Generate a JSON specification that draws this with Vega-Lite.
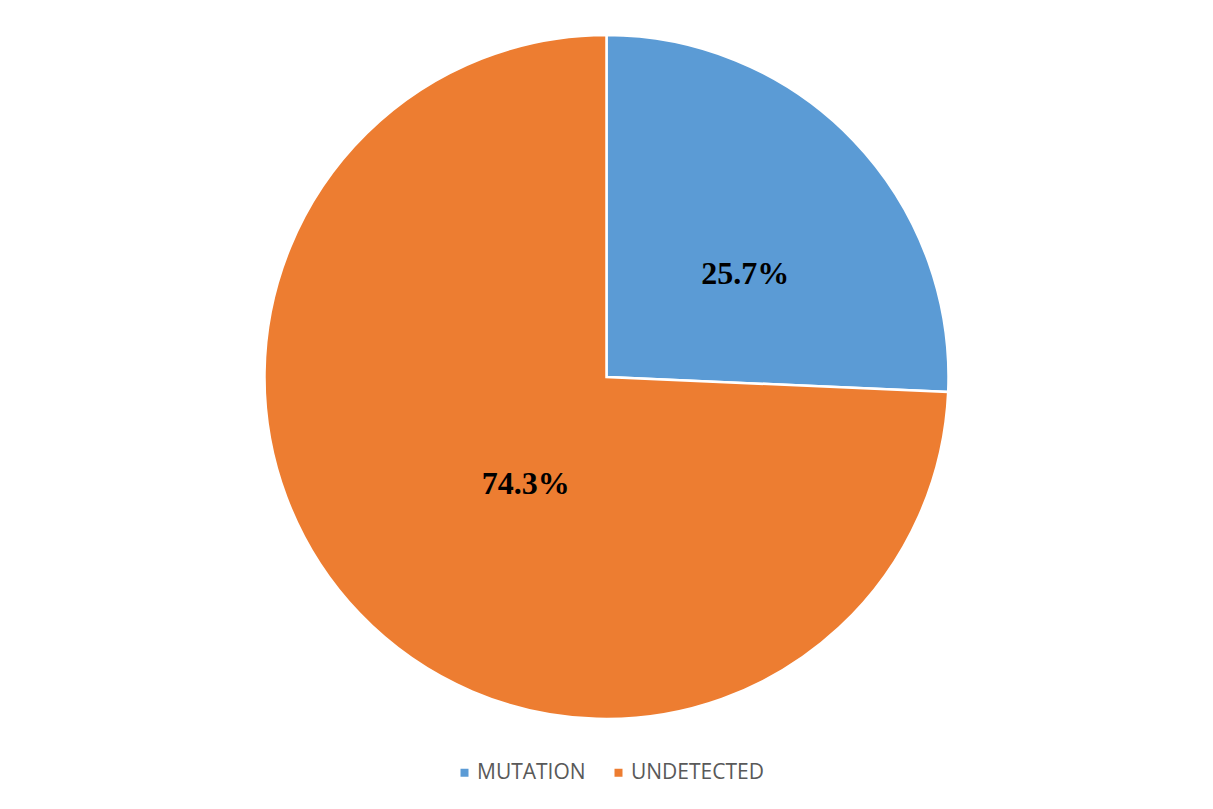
{
  "$schema": "https://vega.github.io/schema/vega-lite/v6.json",
  "width": 1205,
  "height": 746,
  "autosize": {"type": "none"},
  "padding": {"left": 4, "top": 4, "right": 4, "bottom": 59},
  "background": "white",
  "config": {"view": {"stroke": null}},
  "data": {
    "values": [
      {"category": "MUTATION", "percent": 25.7, "label": "25.7%"},
      {"category": "UNDETECTED", "percent": 74.3, "label": "74.3%"}
    ]
  },
  "encoding": {
    "theta": {"field": "percent", "type": "quantitative", "stack": true}
  },
  "layer": [
    {
      "mark": {"type": "arc", "outerRadius": 342, "stroke": "white", "strokeWidth": 2.5},
      "encoding": {
        "color": {
          "field": "category",
          "type": "nominal",
          "scale": {"domain": ["MUTATION", "UNDETECTED"], "range": ["#5b9bd5", "#ed7d31"]},
          "legend": {
            "title": null,
            "orient": "none",
            "direction": "horizontal",
            "legendX": 450,
            "legendY": 758,
            "symbolType": "square",
            "symbolSize": 64,
            "symbolStrokeWidth": 0,
            "labelFont": "Open Sans",
            "labelFontSize": 21,
            "labelColor": "#595959",
            "labelOffset": 2,
            "columnPadding": 22
          }
        }
      }
    },
    {
      "mark": {"type": "text", "radius": 152, "dx": 29, "dy": 2, "font": "Liberation Serif", "fontWeight": "bold", "fontSize": 32, "fill": "black", "align": "center", "baseline": "middle"},
      "encoding": {
        "text": {"field": "label", "type": "nominal"}
      }
    }
  ]
}
